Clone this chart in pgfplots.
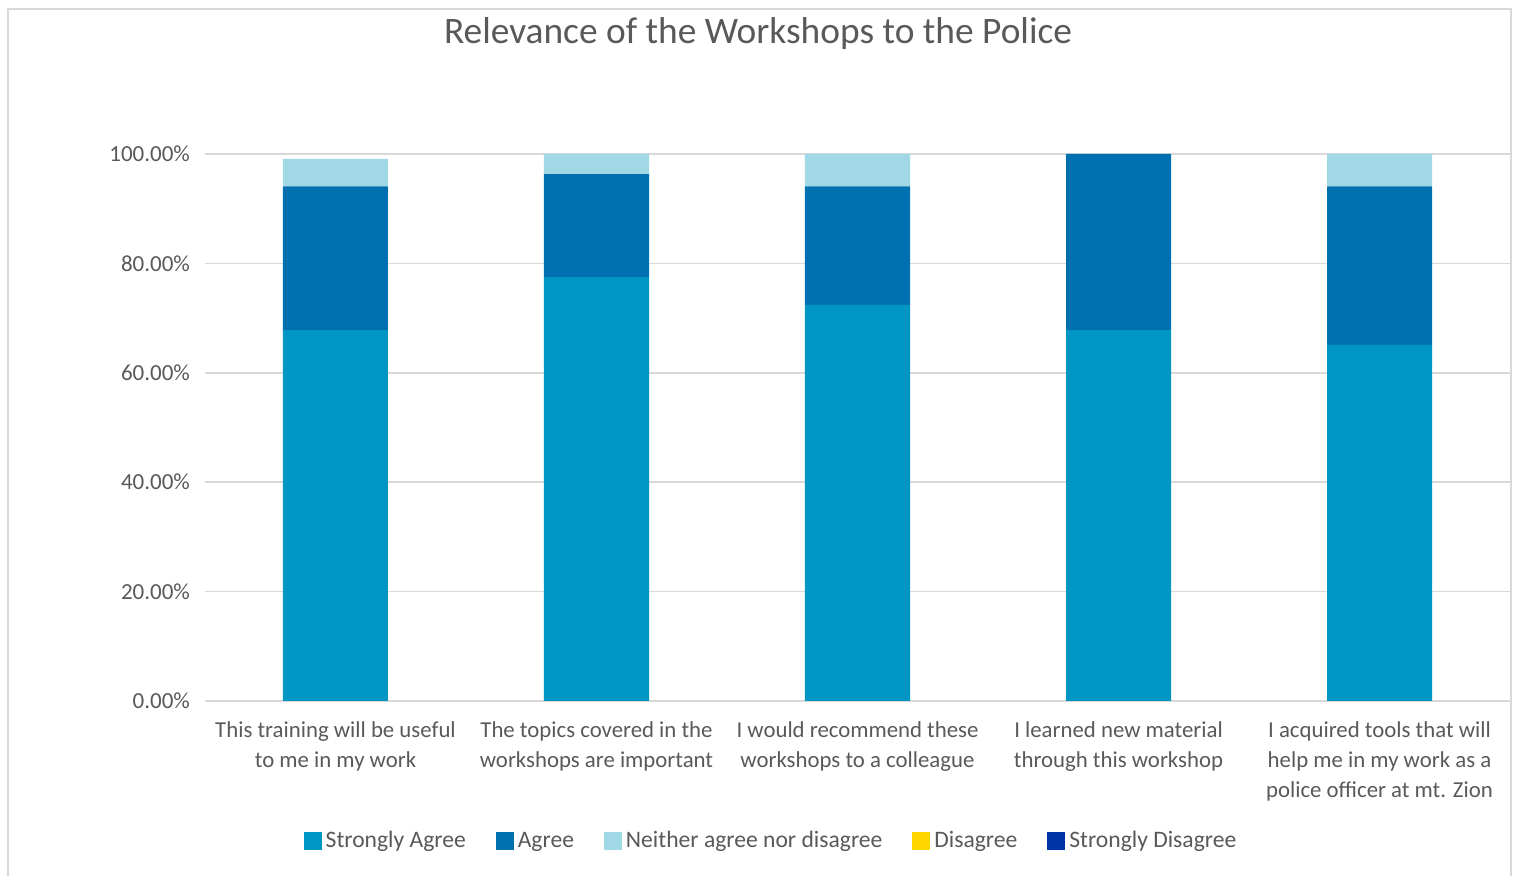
\documentclass[border=0pt]{standalone}
\usepackage{pgfplots}
\pgfplotsset{compat=1.18}
\usepackage{fontspec}
\setmainfont{Carlito}
\definecolor{sagree}{HTML}{0096C4}
\definecolor{agree}{HTML}{0070B0}
\definecolor{neither}{HTML}{A0D8E6}
\definecolor{disagree}{HTML}{FFD700}
\definecolor{sdis}{HTML}{0033A6}
\definecolor{txt}{HTML}{595959}
\definecolor{gridc}{HTML}{D9D9D9}
\begin{document}
\begin{tikzpicture}
\useasboundingbox (-102.5pt,-87.5pt) rectangle (656pt,350.5pt);
\draw[gridc, line width=0.6pt] (-98.5pt,-87.5pt) -- (-98.5pt,346pt) -- (653pt,346pt) -- (653pt,-87.5pt);
\begin{axis}[
  scale only axis,
  width=652.5pt, height=273.5pt,
  at={(0pt,0pt)}, anchor=south west,
  ybar stacked, bar width=52.5pt,
  xmin=-0.5, xmax=4.5, ymin=0, ymax=100,
  xtick={0,1,2,3,4},
  xticklabels={This training will be useful\\to me in my work,
               The topics covered in the\\workshops are important,
               I would recommend these\\workshops to a colleague,
               I learned new material\\through this workshop,
               I acquired tools that will\\help me in my work as a\\police officer at mt. Zion},
  xticklabel style={align=center, font=\fontsize{11.4}{15}\selectfont, text=txt, yshift=-7pt},
  ytick={0,20,40,60,80,100},
  yticklabel={\pgfmathprintnumber[fixed,fixed zerofill,precision=2]{\tick}\%},
  yticklabel style={font=\fontsize{11.5}{13}\selectfont, text=txt, xshift=-4pt},
  /pgf/number format/assume math mode=true,
  major tick length=0pt,
  ymajorgrids, grid style={gridc, line width=0.8pt},
  axis line style={draw=none},
  title={Relevance of the Workshops to the Police},
  title style={font=\fontsize{18.7}{22}\selectfont, text=txt, at={(0.4238,1)}, anchor=center, yshift=54pt},
  legend style={draw=none, at={(0.4345,-0.256)}, anchor=center, legend columns=5,
    font=\fontsize{11.8}{13}\selectfont, text=txt,
    /tikz/every even column/.append style={column sep=13pt}},
  legend image code/.code={\fill[#1] (0pt,-4.5pt) rectangle (9pt,4.5pt);},
]
\addplot[fill=sagree, draw=none] coordinates {(0,67.8) (1,77.5) (2,72.4) (3,67.8) (4,65.1)};
\addplot[fill=agree, draw=none] coordinates {(0,26.3) (1,18.8) (2,21.7) (3,32.2) (4,29.0)};
\addplot[fill=neither, draw=none] coordinates {(0,5.0) (1,3.7) (2,5.9) (3,0) (4,5.9)};
\addlegendentry{Strongly Agree}
\addlegendentry{Agree}
\addlegendentry{Neither agree nor disagree}
\addlegendimage{fill=disagree, draw=none}
\addlegendentry{Disagree}
\addlegendimage{fill=sdis, draw=none}
\addlegendentry{Strongly Disagree}
\end{axis}
\end{tikzpicture}
\end{document}
